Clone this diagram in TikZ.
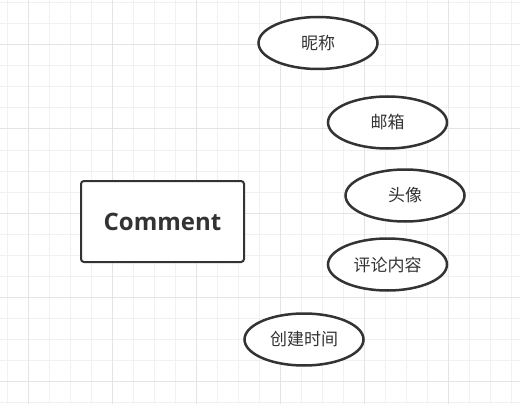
\documentclass[tikz,border=0pt]{standalone}
\usepackage{fontspec}
\setmainfont{Noto Sans CJK SC}
\newfontfamily\titlefont{Open Sans}
\usetikzlibrary{shapes.geometric}

\definecolor{inkgray}{HTML}{333333}
\definecolor{minorgray}{HTML}{F1F1F1}
\definecolor{majorgray}{HTML}{E4E4E4}

\begin{document}
\begin{tikzpicture}[
    x=1pt, y=-1pt,
    minorline/.style={draw=minorgray, line width=1pt},
    majorline/.style={draw=majorgray, line width=1pt},
    entity/.style={rectangle, draw=inkgray, line width=2pt, rounded corners=3pt,
        fill=white, minimum width=163pt, minimum height=81pt,
        text=inkgray, font=\titlefont\fontsize{24}{27}\selectfont\bfseries},
    attr/.style={ellipse, draw=inkgray, line width=2.5pt, fill=white,
        minimum width=119pt, minimum height=52pt, inner sep=0pt,
        text=inkgray, font=\fontsize{17}{20}\selectfont}
]
    \useasboundingbox (0,0) rectangle (520,404);
    \fill[white] (0,0) rectangle (520,404);
    % background grid
    \foreach \gx in {7,28,...,520} \draw[minorline] (\gx,0) -- (\gx,404);
    \foreach \gy in {3,24,...,404} \draw[minorline] (0,\gy) -- (520,\gy);
    \foreach \gx in {28,112,...,520} \draw[majorline] (\gx,0) -- (\gx,404);
    \foreach \gy in {45,129,...,404} \draw[majorline] (0,\gy) -- (520,\gy);

    \node[entity] (comment) at (162.5,221.5) {Comment};
    \node[attr] (nickname) at (318,43) {昵称};
    \node[attr] (email) at (387.5,122.5) {邮箱};
    \node[attr] (avatar) at (405,195.5) {头像};
    \node[attr] (content) at (387.5,264.5) {评论内容};
    \node[attr] (created) at (304,339.5) {创建时间};
\end{tikzpicture}
\end{document}
